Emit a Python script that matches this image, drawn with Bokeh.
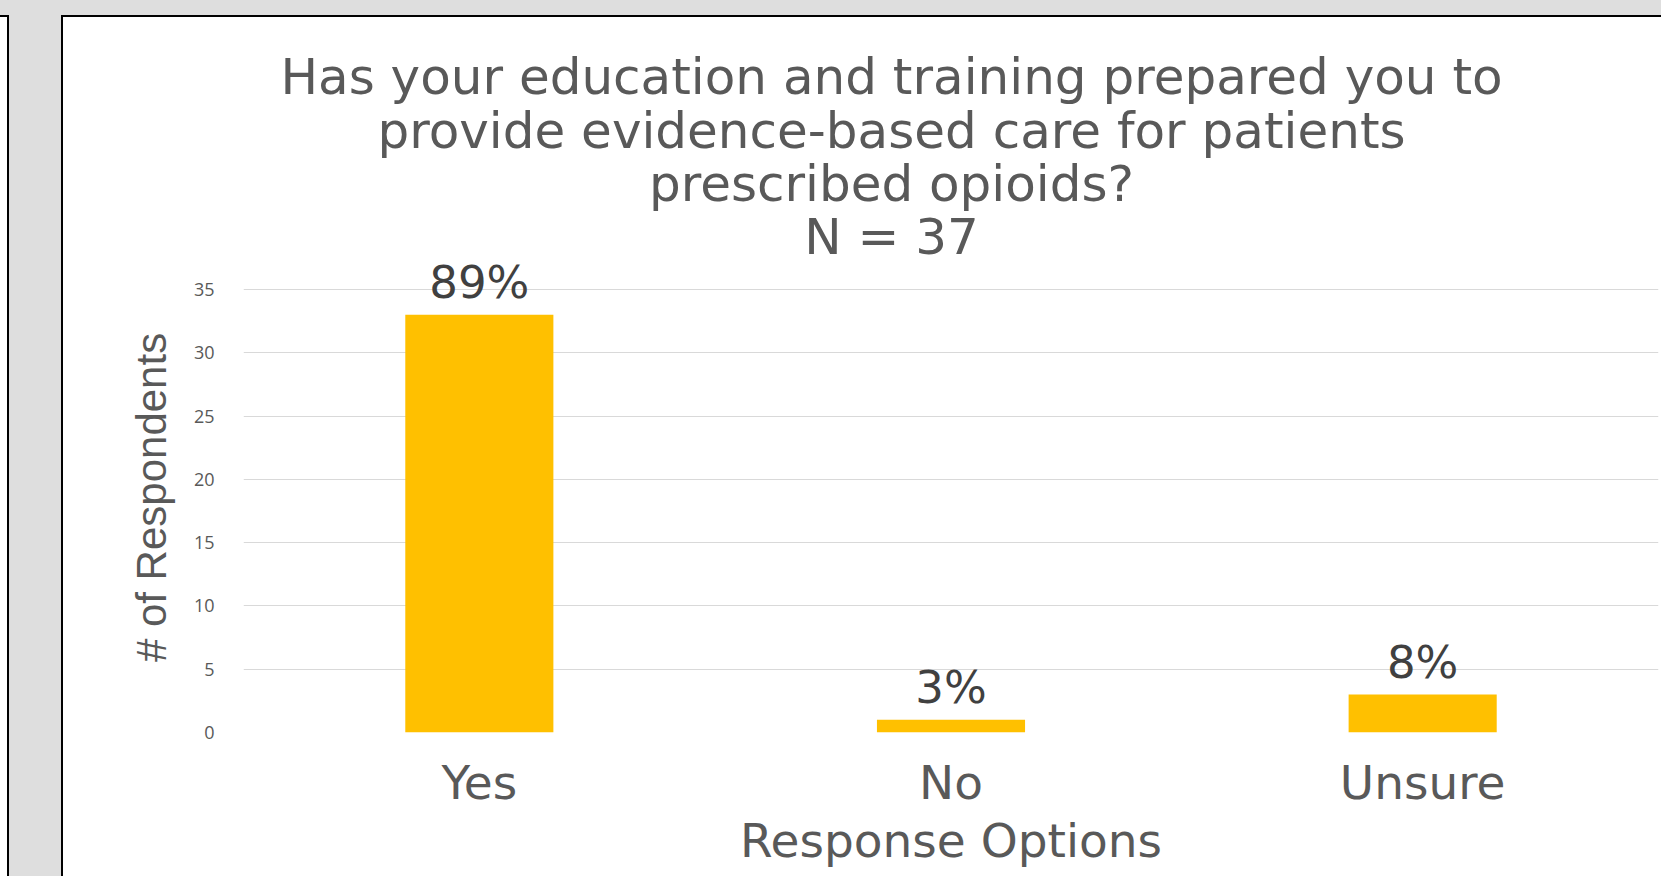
from bokeh.plotting import figure
from bokeh.layouts import row, column
from bokeh.models import (ColumnDataSource, LabelSet, Label, FactorRange,
                          Range1d, FixedTicker, Div)
from bokeh.core.properties import value
from bokeh.embed import file_html
from bokeh.resources import INLINE

# ---------------- data ----------------
categories = ["Yes", "No", "Unsure"]
counts = [33, 1, 3]
percent_labels = ["89%", "3%", "8%"]
y_ticks = [0, 5, 10, 15, 20, 25, 30, 35]
title_lines = [
    "Has your education and training prepared you to",
    "provide evidence-based care for patients",
    "prescribed opioids?",
    "N = 37",
]
x_label = "Response Options"
y_label = "# of Respondents"

# ---------------- layout constants ----------------
PANEL_W = 1598               # white chart panel width
HEAD_H = 245                 # title area height
W, H = PANEL_W, 614          # plot figure
LEFT, RIGHT, BOTTOM = 180, 3, 144
FRAME_H = H - BOTTOM
PX_PER_UNIT = 12.657         # vertical scale of the value axis
Y_END = FRAME_H / PX_PER_UNIT

TEXT = "#595959"
FONT = "DejaVu Sans"
GRAY = "#dedede"

src = ColumnDataSource(dict(cat=categories, count=counts, pct=percent_labels))

# ---------------- title area ----------------
head = figure(width=PANEL_W, height=HEAD_H, output_backend="svg",
              toolbar_location=None, x_axis_location=None,
              y_axis_location=None, min_border=0,
              min_border_left=LEFT, min_border_right=RIGHT,
              x_range=Range1d(0, 1), y_range=Range1d(0, 1))
head.outline_line_color = None
head.xgrid.visible = False
head.ygrid.visible = False
title_cx = 828 - LEFT
baselines = [76, 130, 183, 236]
LABEL_SHIFT = 17             # measured anchor offset of Label baselines
for line, by in zip(title_lines, baselines):
    head.add_layout(Label(x=title_cx, y=HEAD_H - by + LABEL_SHIFT,
                          x_units="screen", y_units="screen", text=line,
                          text_align="center", text_baseline="alphabetic",
                          text_font=FONT, text_font_size="50px",
                          text_color=TEXT))

# ---------------- chart ----------------
p = figure(x_range=FactorRange(*categories), y_range=Range1d(0, Y_END),
           width=W, height=H, output_backend="svg", toolbar_location=None,
           min_border_left=LEFT, min_border_right=RIGHT,
           min_border_top=0, min_border_bottom=BOTTOM)
p.outline_line_color = None
p.background_fill_color = "white"
p.border_fill_color = "white"

p.vbar(x="cat", top="count", width=0.314, source=src,
       fill_color="#FFC000", line_color=None)

p.add_layout(LabelSet(x="cat", y="count", text="pct", source=src,
                      text_align="center", text_baseline="alphabetic",
                      y_offset=17, text_font_size="45px",
                      text_font=value(FONT), text_color="#404040"))

p.xgrid.grid_line_color = None
p.ygrid.grid_line_color = "#d9d9d9"
p.ygrid.grid_line_width = 1
p.yaxis.ticker = FixedTicker(ticks=y_ticks)

p.yaxis.axis_line_color = None
p.yaxis.major_tick_line_color = None
p.yaxis.minor_tick_line_color = None
p.yaxis.major_label_text_font = "Open Sans"
p.yaxis.major_label_text_font_size = "18px"
p.yaxis.major_label_text_color = TEXT
p.yaxis.major_label_standoff = 23
p.yaxis.axis_label = y_label
p.yaxis.axis_label_text_font = "Liberation Sans"
p.yaxis.axis_label_text_font_style = "normal"
p.yaxis.axis_label_text_font_size = "42px"
p.yaxis.axis_label_text_color = TEXT
p.yaxis.axis_label_standoff = 16

p.xaxis.axis_line_color = None
p.xaxis.major_tick_line_color = None
p.xaxis.major_tick_out = 0
p.xaxis.major_label_text_font = FONT
p.xaxis.major_label_text_font_size = "47px"
p.xaxis.major_label_text_color = TEXT
p.xaxis.major_label_standoff = 22
p.xaxis.axis_label = x_label
p.xaxis.axis_label_text_font = FONT
p.xaxis.axis_label_text_font_style = "normal"
p.xaxis.axis_label_text_font_size = "47px"
p.xaxis.axis_label_text_color = TEXT
p.xaxis.axis_label_standoff = 0

# ---------------- slide background around the panel ----------------
def block(w, h, color):
    return Div(width=w, height=h, margin=0, styles={"background-color": color})

side_h = 876 - 15
layout = column(
    block(1661, 15, GRAY),
    row(
        column(block(7, 2, "black"), block(7, side_h - 2, "white"), spacing=0),
        block(2, side_h, "black"),
        block(52, side_h, GRAY),
        block(2, side_h, "black"),
        column(block(PANEL_W, 2, "black"), head, p, spacing=0),
        spacing=0,
    ),
    spacing=0,
)

open("out.html", "w").write(file_html(layout, INLINE))
